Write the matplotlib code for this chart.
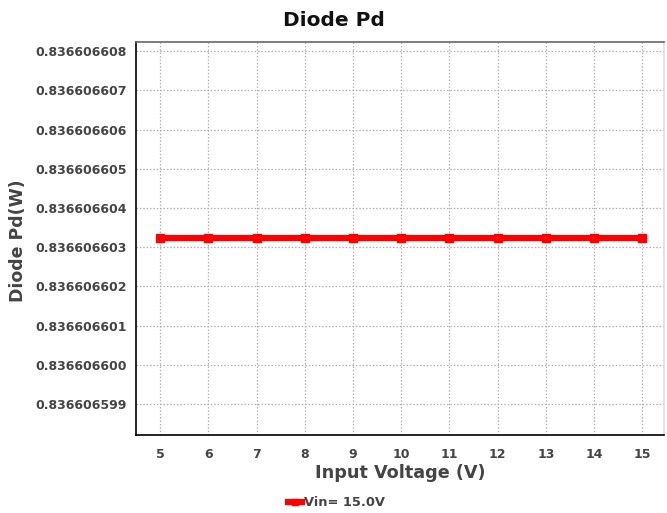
import matplotlib.pyplot as plt
import numpy as np
from matplotlib.ticker import FuncFormatter

plt.rcParams['font.family'] = ['DejaVu Sans']
plt.rcParams['font.weight'] = 'bold'

vin = [5, 6, 7, 8, 9, 10, 11, 12, 13, 14, 15]
pd_w = [0.83660660323] * 11
yticks = [0.836606599, 0.836606600, 0.836606601, 0.836606602, 0.836606603,
          0.836606604, 0.836606605, 0.836606606, 0.836606607, 0.836606608]

fig = plt.figure(figsize=(6.67, 5.13), dpi=100)
ax = fig.add_axes([0.204, 0.152, 0.7915, 0.766])

ax.plot(vin, pd_w, color='#ff0000', lw=4.5, marker='s', ms=6, label='Vin= 15.0V')

ax.set_xlim(4.5, 15.45)
ax.set_ylim(0.83660659821, 0.83660660823)
ax.set_xticks(vin)
ax.set_yticks(yticks)
ax.yaxis.set_major_formatter(FuncFormatter(lambda v, p: '%.9f' % v))
ax.tick_params(length=0, labelsize=9, labelcolor='#444444')
ax.tick_params(axis='x', pad=9)
ax.tick_params(axis='y', pad=6.5)

ax.grid(True, color='#b0b0b0', ls=(0, (1.2, 1.5)), lw=0.9)
ax.spines['left'].set_color('black')
ax.spines['bottom'].set_color('black')
ax.spines['top'].set_color('#666666')
ax.spines['right'].set_color('#dddddd')
for s in ax.spines.values():
    s.set_linewidth(1.2)

fig.text(0.5, 0.961, 'Diode Pd', fontsize=14.5, color='#111111', ha='center', va='center')
fig.text(0.6, 0.078, 'Input Voltage (V)', fontsize=12.7, color='#444444', ha='center', va='center')
fig.text(0.027, 0.53, 'Diode Pd(W)', fontsize=12.5, color='#444444', ha='center', va='center',
         rotation=90)

h, l = ax.get_legend_handles_labels()
leg = fig.legend(h, l, loc='center', bbox_to_anchor=(0.504, 0.02), frameon=False,
                 fontsize=9.4, handlelength=1.1, handletextpad=0.1, markerscale=0.7,
                 borderpad=0)
for t in leg.get_texts():
    t.set_color('#444444')

fig.savefig('out.png', dpi=100)
